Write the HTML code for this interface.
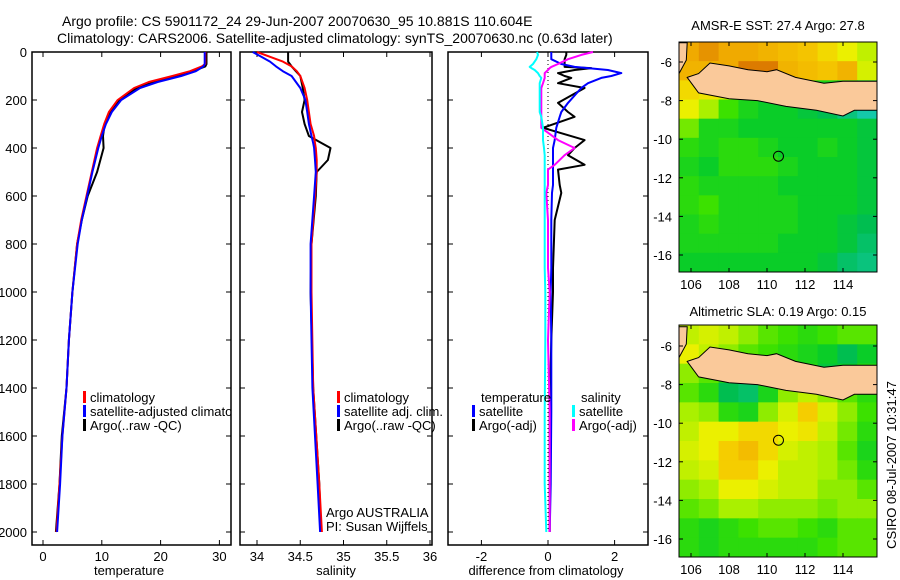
<!DOCTYPE html>
<html><head><meta charset="utf-8"><style>
body{margin:0;background:#fff;}
svg{display:block;font-family:"Liberation Sans",sans-serif;}
text{fill:#000;}
</style></head><body>
<svg id="fig" width="900" height="580" viewBox="0 0 900 580" xmlns="http://www.w3.org/2000/svg">
<defs><clipPath id="clipT"><rect x="32" y="52" width="199" height="493"/></clipPath></defs>
<rect width="900" height="580" fill="#fff"/>
<text x="62" y="26" font-size="14">Argo profile: CS 5901172_24 29-Jun-2007 20070630_95 10.881S 110.604E</text>
<text x="57" y="43" font-size="14">Climatology: CARS2006. Satellite-adjusted climatology: synTS_20070630.nc (0.63d later)</text>
<text x="778" y="30" font-size="13" text-anchor="middle">AMSR-E SST: 27.4 Argo: 27.8</text>
<text x="778" y="316" font-size="13" text-anchor="middle">Altimetric SLA: 0.19 Argo: 0.15</text>
<text transform="translate(896,465) rotate(-90)" font-size="13" text-anchor="middle">CSIRO 08-Jul-2007 10:31:47</text>
<text x="129" y="575" font-size="13" text-anchor="middle">temperature</text>
<text x="336" y="575" font-size="13" text-anchor="middle">salinity</text>
<text x="546" y="575" font-size="13" text-anchor="middle">difference from climatology</text>
<text x="326" y="517" font-size="13">Argo AUSTRALIA</text>
<text x="326" y="531" font-size="13">PI: Susan Wijffels</text>
</svg>
<script>
// ---- profile data ----
const depthT = [0,50,60,80,100,125,150,200,250,300,350,400,500,600,700,800,1000,1200,1400,1600,1800,2000];
const tempClim = [27.6,27.6,27,25,22,18,15.5,12.7,11.2,10.4,9.8,9.2,8.3,7.4,6.5,5.8,5,4.4,4,3.3,2.8,2.3];
const tempSat  = [27.5,27.5,27.3,26,23.5,19.5,16.5,13.3,11.7,10.7,10,9.4,8.4,7.5,6.6,5.9,5,4.4,4,3.3,2.9,2.4];
const tempArgo = [27.8,27.8,27.6,25.5,22.5,19,16,13,11.5,10.5,10.2,10.3,9.2,7.6,6.6,5.8,5,4.4,4,3.2,2.8,2.2];
const depthS = [0,20,40,60,80,100,150,200,250,300,350,380,400,450,500,600,800,1000,1400,1800,2000];
const salClim = [34.0,34.15,34.3,34.4,34.46,34.5,34.55,34.58,34.6,34.62,34.66,34.67,34.68,34.69,34.69,34.67,34.63,34.63,34.65,34.72,34.75];
const salSat  = [33.95,34.05,34.15,34.22,34.3,34.4,34.5,34.56,34.58,34.6,34.63,34.65,34.66,34.67,34.68,34.66,34.62,34.62,34.64,34.7,34.73];
const salArgo = [34.36,34.36,34.36,34.4,34.45,34.5,34.53,34.55,34.52,34.55,34.6,34.75,34.85,34.82,34.69,34.68,34.63,34.62,34.65,34.72,34.74];
const depthD = [0,12,30,50,62,67,75,88,100,108,130,150,212,250,270,316,367,400,430,470,490,554,587,700,900,1000,1200,1500,1800,2000];
const diffTsat  = [0.1,0.1,0.1,0.4,0.8,1.2,1.8,2.2,1.9,1.6,1.2,1,0.6,0.4,0.35,0.25,0.2,0.15,0.15,0.15,0.15,0.15,0.12,0.1,0.1,0.08,0.1,0.1,0.08,0.05];
const diffTargo = [0.55,0.55,0.5,0.5,0.5,1.3,0.8,0.3,0.5,0.7,0.3,1.1,0.3,0.6,0.8,-0.15,1.1,0.8,0.6,1.1,0.3,0.35,0.4,0.2,0.15,0.15,0.1,0.05,0.05,0.05];
const diffSsat  = [-0.33,-0.3,-0.35,-0.45,-0.55,-0.5,-0.4,-0.3,-0.25,-0.2,-0.25,-0.25,-0.25,-0.25,-0.2,-0.15,-0.15,-0.12,-0.1,-0.1,-0.1,-0.1,-0.1,-0.1,-0.1,-0.08,-0.08,-0.1,-0.1,-0.05];
const diffSargo = [1.35,1.0,0.6,0.3,0.1,0.05,0.0,-0.1,-0.1,-0.1,-0.15,-0.2,-0.2,-0.2,-0.2,-0.2,0.3,0.8,0.5,0.2,0.0,0.0,-0.05,0,0,0.05,0,0.05,0.05,0.05];
const depthTicks = [0,200,400,600,800,1000,1200,1400,1600,1800,2000];
const tTicks = [0,10,20,30];
const sTicks = [34,34.5,35,35.5,36];
const sTickLabels = ["34","34.5","35","35.5","36"];
const dTicks = [-2,0,2];
// ---- map data (coarse grids, rows top->bottom) ----
const sstGrid = [
[0.85,0.9,0.85,0.85,0.8,0.75,0.7,0.6,0.5,0.4],
[0.8,0.8,0.85,0.95,0.95,0.8,0.75,0.7,0.8,0.45],
[0.6,0.55,0.45,0.35,0.25,0.15,0.1,0.05,0.0,-0.1],
[0.5,0.35,0.15,0.05,0.0,0.0,-0.05,-0.1,-0.2,-0.3],
[0.25,0.05,0.05,0,0,0,0,0,0,-0.05],
[0.1,0.05,0.1,0.1,0.05,0,0,0.05,0,-0.05],
[0.05,0,0.1,0.1,0.1,0.05,0,0,0,-0.05],
[0.1,0.05,0.05,0.05,0.05,0,0,0,0,-0.05],
[0.1,0.15,0.05,0.05,0.05,0.05,0,0,0,-0.05],
[0.05,0.1,0.05,0.05,0.05,0.05,0,0,-0.05,-0.1],
[0.05,0.05,0.05,0.05,0.05,0,0,0,-0.05,-0.15],
[0,0,0,0,0,0,0,-0.05,-0.15,-0.2]];
const slaGrid = [
[0.4,0.45,0.4,0.3,0.2,0.15,0.1,0.15,0.2,0.2],
[0.5,0.4,0.3,0.2,0.15,0.1,0.05,0,-0.1,0.0],
[0.3,0.2,0.05,0,0.1,0.2,0.1,-0.05,0.0,0.1],
[0.2,0.1,-0.1,-0.15,0.05,0.3,0.4,0.3,0.2,0.1],
[0.35,0.3,0.1,0.05,0.3,0.45,0.65,0.45,0.3,0.15],
[0.4,0.5,0.5,0.6,0.6,0.5,0.55,0.4,0.25,0.1],
[0.45,0.5,0.65,0.75,0.6,0.45,0.4,0.35,0.2,0.05],
[0.4,0.45,0.65,0.65,0.5,0.4,0.4,0.35,0.25,0.1],
[0.3,0.35,0.5,0.5,0.45,0.4,0.4,0.3,0.3,0.2],
[0.2,0.25,0.35,0.35,0.3,0.3,0.3,0.25,0.3,0.3],
[0.1,0.05,0.1,0.15,0.2,0.2,0.15,0.1,0.2,0.2],
[0.1,0.05,0.1,0.1,0.1,0.1,0.1,0.15,0.2,0.2]];
const lonTicks = [106,108,110,112,114];
const latTicks = [-6,-8,-10,-12,-14,-16];
const argoPos = [110.604,-10.881];
// Java coastline (lon,lat): south coast west->east, then north coast east->west
const javaLon = [105.8,106.4,108.0,109.5,111.0,112.6,114.0,114.6,115.8,115.8,114.8,114.0,113.0,111.5,110.5,110.0,109.0,108.0,107.0,106.4];
const javaLat = [-6.8,-7.6,-7.9,-8.0,-8.3,-8.5,-8.8,-8.5,-8.5,-7.0,-7.0,-7.0,-7.1,-6.8,-6.4,-6.5,-6.4,-6.2,-6.05,-6.6];
const sumLon = [105.37,105.8,105.75,105.37];
const sumLat = [-5.0,-5.0,-5.9,-6.6];

const NS='http://www.w3.org/2000/svg';
const svg=document.getElementById('fig');
function mk(tag,attrs,parent){const e=document.createElementNS(NS,tag);for(const k in attrs)e.setAttribute(k,attrs[k]);(parent||svg).appendChild(e);return e;}

const Y0=52, YS=0.24, PB=545;
const yD=d=>Y0+d*YS;
const panels=[
 {name:'temperature',x0:32,x1:231,f:v=>43+v*5.88,ticks:tTicks,labels:tTicks.map(String),lab:true},
 {name:'salinity',x0:240,x1:432,f:v=>257+(v-34)*86.5,ticks:sTicks,labels:sTickLabels,lab:false},
 {name:'difference',x0:448,x1:648,f:v=>548+v*33.3,ticks:dTicks,labels:dTicks.map(String),lab:false}];

panels.forEach(p=>{
  const fr=mk('rect',{x:p.x0,y:Y0,width:p.x1-p.x0,height:PB-Y0,fill:'none',stroke:'#000','stroke-width':1.5});
  
  
  p.ticks.forEach((t,i)=>{
    const x=p.f(t);
    mk('line',{x1:x,x2:x,y1:PB,y2:PB-5,stroke:'#000'});
    mk('line',{x1:x,x2:x,y1:Y0,y2:Y0+5,stroke:'#000'});
    const tx=mk('text',{x:x,y:PB+16,'font-size':13,'text-anchor':'middle'});
    tx.textContent=p.labels[i];
    
    
  });
  depthTicks.forEach(d=>{
    mk('line',{x1:p.x0,x2:p.x0+5,y1:yD(d),y2:yD(d),stroke:'#000'});
    mk('line',{x1:p.x1,x2:p.x1-5,y1:yD(d),y2:yD(d),stroke:'#000'});
    if(p.lab){
      const tx=mk('text',{x:27,y:yD(d)+5,'font-size':13,'text-anchor':'end'});
      tx.textContent=String(d);
      
      
    }
  });
});
function line(depths,vals,f,color,name,w){
  const pts=depths.map((d,i)=>f(vals[i]).toFixed(1)+','+yD(d).toFixed(1)).join(' ');
  const pl=mk('polyline',{points:pts,fill:'none',stroke:color,'stroke-width':w||2,'stroke-linejoin':'round'});
  
  
}
const P=panels;
line(depthT,tempArgo,P[0].f,'#000','temp-argo-line');
line(depthT,tempClim,P[0].f,'#f00','temp-climatology-line');
line(depthT,tempSat,P[0].f,'#00f','temp-satellite-line');
line(depthS,salArgo,P[1].f,'#000','sal-argo-line');
line(depthS,salClim,P[1].f,'#f00','sal-climatology-line');
line(depthS,salSat,P[1].f,'#00f','sal-satellite-line');
const zl=mk('line',{x1:P[2].f(0),x2:P[2].f(0),y1:Y0,y2:yD(2000),stroke:'#000','stroke-dasharray':'1,3'});


line(depthD,diffTargo,P[2].f,'#000','diff-temp-argo-line');
line(depthD,diffTsat,P[2].f,'#00f','diff-temp-satellite-line');
line(depthD,diffSargo,P[2].f,'#f0f','diff-sal-argo-line');
line(depthD,diffSsat,P[2].f,'#0ff','diff-sal-satellite-line');

// legends
function leg(x,y,color,label,name,clip){
  if(color){const r=mk('rect',{x:x,y:y-11,width:3,height:12,fill:color});
  
  }
  const t=mk('text',{x:x+7,y:y,'font-size':13});t.textContent=label;
  if(clip)t.setAttribute('clip-path','url(#'+clip+')');
  
  
}
leg(83,402,'#f00','climatology','legend-climatology');
leg(83,416,'#00f','satellite-adjusted climatology','legend-satellite-adjusted','clipT');
leg(83,430,'#000','Argo(..raw -QC)','legend-argo');
leg(337,402,'#f00','climatology','legend-sal-climatology');
leg(337,416,'#00f','satellite adj. clim.','legend-sal-satellite');
leg(337,430,'#000','Argo(..raw -QC)','legend-sal-argo');
leg(474,402,null,'temperature','legend-temperature-header');
leg(472,416,'#00f','satellite','legend-diff-temp-satellite');
leg(472,430,'#000','Argo(-adj)','legend-diff-temp-argo');
leg(574,402,null,'salinity','legend-salinity-header');
leg(572,416,'#0ff','satellite','legend-diff-sal-satellite');
leg(572,430,'#f0f','Argo(-adj)','legend-diff-sal-argo');

// maps
function cmap(v){
  const stops=[[-0.3,[20,200,170]],[-0.1,[0,190,80]],[0,[10,205,40]],[0.15,[60,225,0]],[0.35,[170,240,0]],[0.5,[235,240,0]],[0.65,[245,205,0]],[0.85,[240,170,0]],[1,[210,100,0]]];
  if(v<=stops[0][0])return 'rgb('+stops[0][1]+')';
  for(let i=1;i<stops.length;i++){if(v<=stops[i][0]){const a=stops[i-1],b=stops[i],t=(v-a[0])/(b[0]-a[0]);
    return 'rgb('+a[1].map((c,k)=>Math.round(c+(b[1][k]-c)*t)).join(',')+')';}}
  return 'rgb('+stops[stops.length-1][1]+')';
}
function drawMap(mx0,my0,mx1,my1,lat6y,lat16y,grid,name){
  const lonF=lon=>691+(lon-106)*19;
  const latF=lat=>lat6y+(-6-lat)*(lat16y-lat6y)/10;
  const g=mk('g',{});
  
  
  const rows=grid.length,cols=grid[0].length,cw=(mx1-mx0)/cols,ch=(my1-my0)/rows;
  grid.forEach((row,r)=>row.forEach((v,c)=>{
    const cell=mk('rect',{x:mx0+c*cw,y:my0+r*ch,width:cw+0.5,height:ch+0.5,fill:cmap(v)},g);
    
    
  }));
  const jp=mk('polygon',{points:javaLon.map((l,i)=>Math.min(lonF(l),mx1).toFixed(1)+','+latF(javaLat[i]).toFixed(1)).join(' '),fill:'#fac99a',stroke:'#000','stroke-width':1},g);
  
  
  const sp=mk('polygon',{points:sumLon.map((l,i)=>lonF(l).toFixed(1)+','+Math.max(latF(sumLat[i]),my0).toFixed(1)).join(' '),fill:'#fac99a',stroke:'#000','stroke-width':1},g);
  
  
  const c=mk('circle',{cx:lonF(argoPos[0]),cy:latF(argoPos[1]),r:5,fill:'none',stroke:'#000','stroke-width':1},g);
  
  
  mk('rect',{x:mx0,y:my0,width:mx1-mx0,height:my1-my0,fill:'none',stroke:'#000','stroke-width':1},g);
  lonTicks.forEach(l=>{const x=lonF(l);
    mk('line',{x1:x,x2:x,y1:my1,y2:my1-4,stroke:'#000'},g);
    mk('line',{x1:x,x2:x,y1:my0,y2:my0+4,stroke:'#000'},g);
    const t=mk('text',{x:x,y:my1+17,'font-size':13,'text-anchor':'middle'},g);t.textContent=String(l);
    
    });
  latTicks.forEach(l=>{const y=latF(l);
    mk('line',{x1:mx0,x2:mx0+4,y1:y,y2:y,stroke:'#000'},g);
    mk('line',{x1:mx1,x2:mx1-4,y1:y,y2:y,stroke:'#000'},g);
    const t=mk('text',{x:mx0-7,y:y+5,'font-size':13,'text-anchor':'end'},g);t.textContent=String(l);
    
    });
}
drawMap(679,42,877,272,62,255,sstGrid,'sst-map');
drawMap(679,325,877,557,346,539,slaGrid,'sla-map');
</script>
</body></html>
